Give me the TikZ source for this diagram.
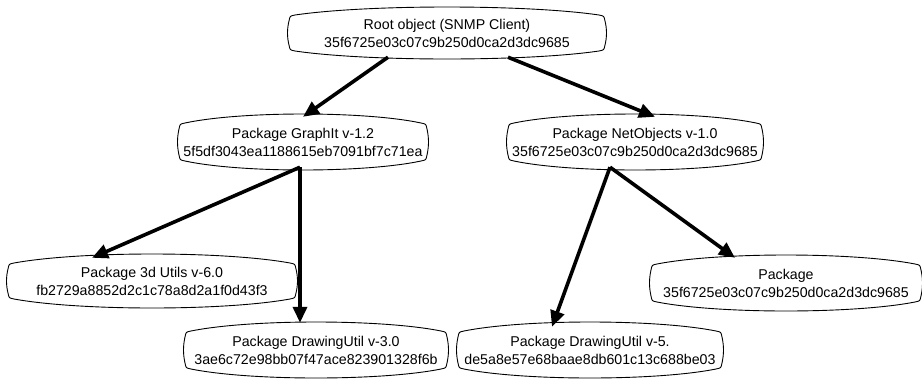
\documentclass[tikz,border=0pt]{standalone}
\usepackage{fontspec}
\setmainfont{Liberation Sans}
\usetikzlibrary{arrows.meta}
\tikzset{
  txt/.style={align=center,inner sep=0pt,font=\fontsize{14.2}{18}\selectfont},
  pill/.style={draw=black,line width=0.9pt},
  arr/.style={line width=3.6pt,-{Triangle[length=16pt,width=14pt]}},
}
\newcommand\pillow[4]{%
\begin{scope}[shift={(#1.center)}]
\draw[pill] (-#2+6,-#3+#4) .. controls (-#2/2,-#3-#4/3) and (#2/2,-#3-#4/3) .. (#2-6,-#3+#4)
 .. controls (#2-1,-#3+#4+1) .. (#2,-#3+#4+6)
 .. controls (#2+2,-4) and (#2+2,4) .. (#2,#3-#4-6)
 .. controls (#2-1,#3-#4-1) .. (#2-6,#3-#4)
 .. controls (#2/2,#3+#4/3) and (-#2/2,#3+#4/3) .. (-#2+6,#3-#4)
 .. controls (-#2+1,#3-#4-1) .. (-#2,#3-#4-6)
 .. controls (-#2-2,4) and (-#2-2,-4) .. (-#2,-#3+#4+6)
 .. controls (-#2+1,-#3+#4+1) .. cycle;
\end{scope}}
\begin{document}
\begin{tikzpicture}[x=1pt,y=-1pt]
\useasboundingbox (0,0) rectangle (922,381);
\node[txt,minimum width=316pt,minimum height=52pt] (root) at (447,33) {Root object (SNMP Client)\\35f6725e03c07c9b250d0ca2d3dc9685};
\node[txt,minimum width=248pt,minimum height=56pt] (graphit) at (303,142) {Package GraphIt v-1.2\\5f5df3043ea1188615eb7091bf7c71ea};
\node[txt,minimum width=254pt,minimum height=56pt] (netobj) at (635,142) {Package NetObjects v-1.0\\35f6725e03c07c9b250d0ca2d3dc9685};
\node[txt,minimum width=288pt,minimum height=54pt] (u3d) at (152,281) {Package 3d Utils v-6.0\\fb2729a8852d2c1c78a8d2a1f0d43f3};
\node[txt,minimum width=262pt,minimum height=56pt] (du3) at (316,350) {Package DrawingUtil v-3.0\\3ae6c72e98bb07f47ace823901328f6b};
\node[txt,minimum width=264pt,minimum height=56pt] (du5) at (590,350) {Package DrawingUtil v-5.\\de5a8e57e68baae8db601c13c688be03};
\node[txt,minimum width=270pt,minimum height=56pt] (pkg) at (786,283) {Package\\35f6725e03c07c9b250d0ca2d3dc9685};
\pillow{root}{158}{26}{8}
\pillow{graphit}{124}{28}{9}
\pillow{netobj}{127}{28}{9}
\pillow{u3d}{144}{27}{9}
\pillow{du3}{131}{28}{9}
\pillow{du5}{132}{28}{9}
\pillow{pkg}{135}{28}{9}
\draw[arr] ([xshift=-59pt,yshift=2pt]root.south) -- ([xshift=0pt,yshift=-3pt]graphit.north);
\draw[arr] ([xshift=61pt,yshift=2pt]root.south) -- ([xshift=20pt,yshift=-3pt]netobj.north);
\draw[arr] ([xshift=-3pt,yshift=3pt]graphit.south) -- ([xshift=-60pt,yshift=-4pt]u3d.north);
\draw[arr] ([xshift=-3pt,yshift=3pt]graphit.south) -- ([xshift=-16pt,yshift=-1pt]du3.north);
\draw[arr] ([xshift=-25pt,yshift=3pt]netobj.south) -- ([xshift=-38pt,yshift=-5pt]du5.north);
\draw[arr] ([xshift=-25pt,yshift=3pt]netobj.south) -- ([xshift=-51pt,yshift=-3pt]pkg.north);
\end{tikzpicture}
\end{document}
